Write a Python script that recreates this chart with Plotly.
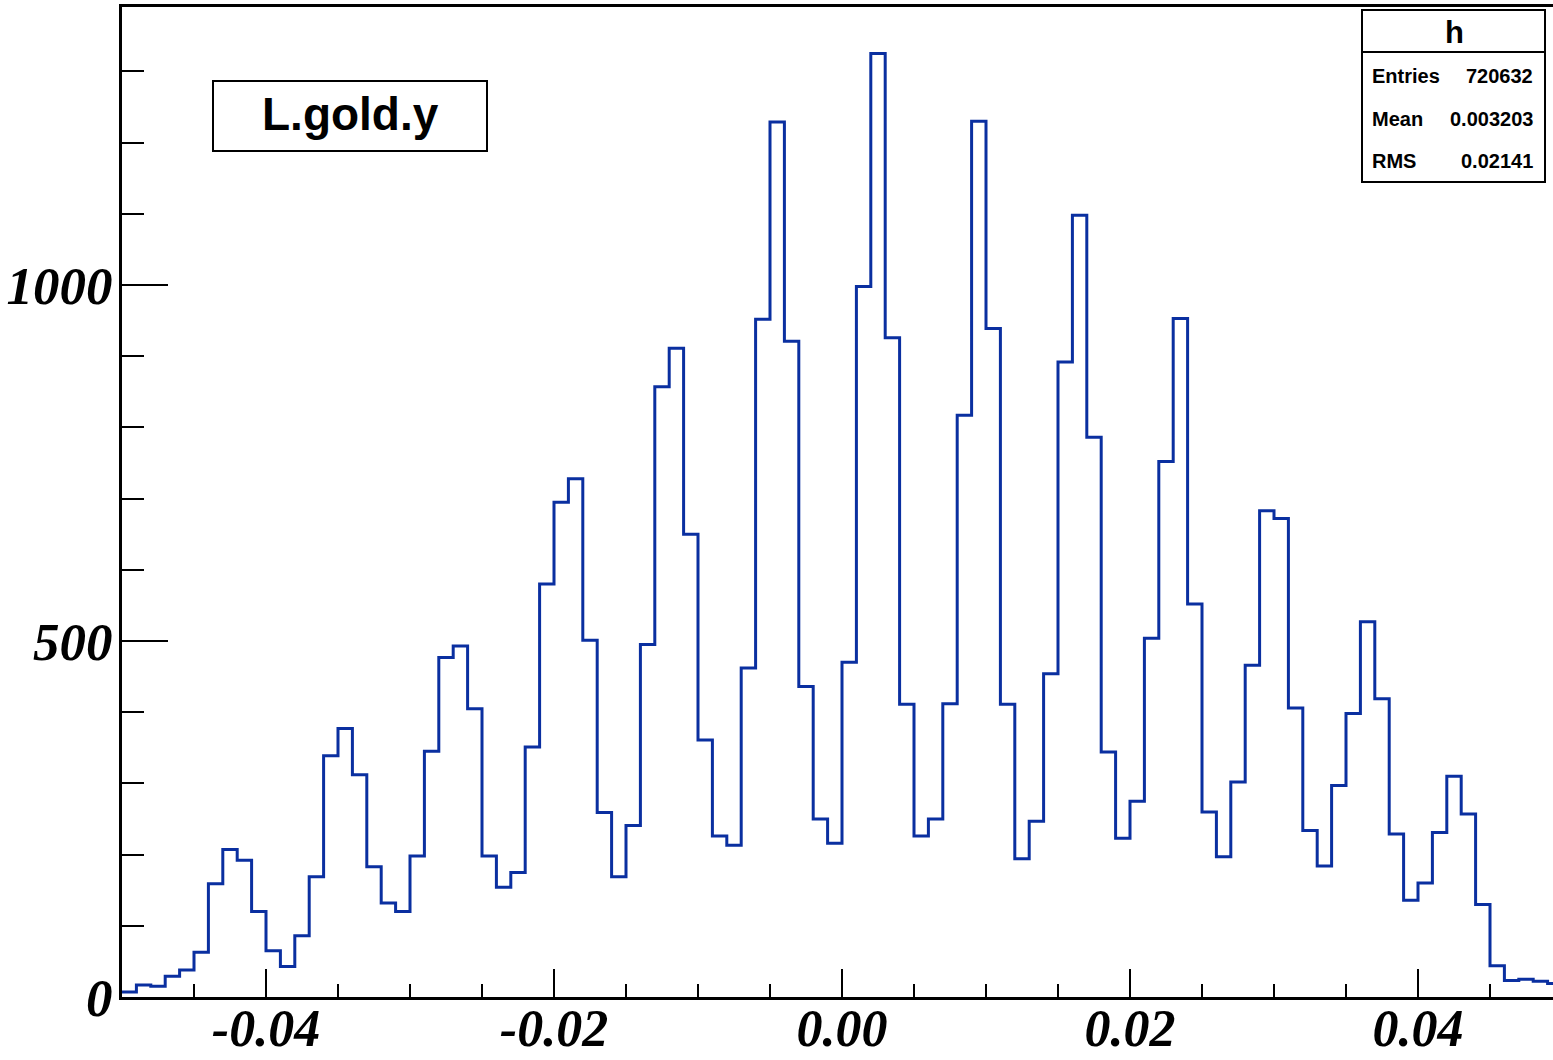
import plotly.graph_objects as go

# ---- histogram definition (TH1: 100 bins from -0.05 to 0.05) ----
N_BINS = 100
X_LOW = -0.05
X_HIGH = 0.05

# ---- bin contents ----
counts = [
    7, 17, 15, 29, 38, 63, 159, 207, 192, 120,
    65, 43, 86, 169, 339, 377, 312, 183, 132, 120,
    198, 345, 477, 493, 405, 198, 154, 175, 351, 580,
    695, 728, 501, 259, 169, 241, 495, 857, 911, 650,
    361, 226, 213, 462, 952, 1229, 921, 436, 250, 216,
    470, 998, 1325, 926, 411, 226, 250, 412, 817, 1230,
    939, 411, 194, 247, 454, 892, 1098, 786, 344, 223,
    275, 504, 752, 953, 552, 260, 197, 302, 466, 683,
    672, 406, 234, 184, 297, 398, 527, 419, 229, 136,
    160, 231, 310, 257, 130, 44, 23, 25, 22, 19,
]

x_tick_vals = [-0.04, -0.02, 0.0, 0.02, 0.04]
x_tick_text = ["-0.04", "-0.02", "0.00", "0.02", "0.04"]
y_tick_vals = [0, 500, 1000]
y_tick_text = ["0", "500", "1000"]

title_text = "L.gold.y"
stats_name = "h"
stats_labels = ["Entries", "Mean", "RMS"]
stats_values = ["720632", "0.003203", "0.02141"]

# ---- build step outline ----
width = (X_HIGH - X_LOW) / N_BINS
edges = [X_LOW + width * i for i in range(N_BINS + 1)]
step_x = edges
step_y = counts + [counts[-1]]

W, H = 1553, 1060
ML, MR, MT, MB = 122, 0, 7, 63
PW, PH = W - ML - MR, H - MT - MB


def px(xp):
    return (xp - ML) / PW


def py(yp):
    return (H - MB - yp) / PH


fig = go.Figure()
fig.add_trace(go.Scatter(
    x=step_x, y=step_y, mode="lines",
    line=dict(shape="hv", color="#0a2fa0", width=3),
    showlegend=False, hoverinfo="skip",
))

x_tick_font = dict(family="Liberation Serif", size=52, color="black",
                   weight="bold", style="italic")
y_tick_font = dict(family="Liberation Serif", size=53, color="black",
                   weight="bold", style="italic")

fig.update_layout(
    width=W, height=H,
    margin=dict(l=ML, r=MR, t=MT, b=MB, pad=0, autoexpand=False),
    paper_bgcolor="white", plot_bgcolor="white",
    showlegend=False,
    xaxis=dict(
        range=[X_LOW, X_LOW + (X_HIGH - X_LOW) * (PW / 1440.0)],
        automargin=False,
        showgrid=False, zeroline=False,
        showline=True, linecolor="black", linewidth=3, mirror=True,
        ticks="inside", ticklen=28, tickwidth=2, tickcolor="black",
        tickvals=x_tick_vals, ticktext=x_tick_text,
        tickfont=x_tick_font, ticklabelstandoff=-16,
        minor=dict(dtick=0.005, tick0=0, ticks="inside", ticklen=13,
                   tickwidth=2, tickcolor="black", showgrid=False),
    ),
    yaxis=dict(
        range=[0, (H - MB - MT) / 0.712],
        automargin=False,
        showgrid=False, zeroline=False,
        showline=True, linecolor="black", linewidth=3, mirror=False,
        ticks="inside", ticklen=46, tickwidth=2, tickcolor="black",
        tickvals=y_tick_vals, ticktext=y_tick_text,
        tickfont=y_tick_font, ticklabelstandoff=-4,
        minor=dict(dtick=100, tick0=0, ticks="inside", ticklen=22,
                   tickwidth=2, tickcolor="black", showgrid=False),
    ),
)

shapes = []
annotations = []

# title box
shapes.append(dict(type="rect", xref="paper", yref="paper",
                   x0=px(213), x1=px(487), y0=py(151), y1=py(81),
                   line=dict(color="black", width=2), fillcolor="white"))
annotations.append(dict(xref="paper", yref="paper", x=px(350), y=py(114),
                        text=title_text, showarrow=False,
                        xanchor="center", yanchor="middle",
                        font=dict(family="Liberation Sans", size=46,
                                  color="black", weight="bold")))

# stats box
shapes.append(dict(type="rect", xref="paper", yref="paper",
                   x0=px(1362), x1=px(1545), y0=py(182), y1=py(10),
                   line=dict(color="black", width=2), fillcolor="white"))
shapes.append(dict(type="line", xref="paper", yref="paper",
                   x0=px(1362), x1=px(1545), y0=py(52), y1=py(52),
                   line=dict(color="black", width=2)))
annotations.append(dict(xref="paper", yref="paper", x=px(1454), y=py(33),
                        text=stats_name, showarrow=False,
                        xanchor="center", yanchor="middle",
                        font=dict(family="Liberation Sans", size=31,
                                  color="black", weight="bold")))
row_y = [76, 119, 161]
for lab, val, ry in zip(stats_labels, stats_values, row_y):
    annotations.append(dict(xref="paper", yref="paper", x=px(1370), y=py(ry),
                            text=lab, showarrow=False,
                            xanchor="left", yanchor="middle",
                            font=dict(family="Liberation Sans", size=20,
                                      color="black", weight="bold")))
    annotations.append(dict(xref="paper", yref="paper", x=px(1535), y=py(ry),
                            text=val, showarrow=False,
                            xanchor="right", yanchor="middle",
                            font=dict(family="Liberation Sans", size=20,
                                      color="black", weight="bold")))

fig.update_layout(shapes=shapes, annotations=annotations)

page_css = (
    "var st=document.createElement('style');"
    "st.innerHTML='html,body{margin:0!important;padding:0!important;overflow:hidden;}';"
    "document.head.appendChild(st);"
)

fig.write_html("out.html", config={"displayModeBar": False}, post_script=page_css)
